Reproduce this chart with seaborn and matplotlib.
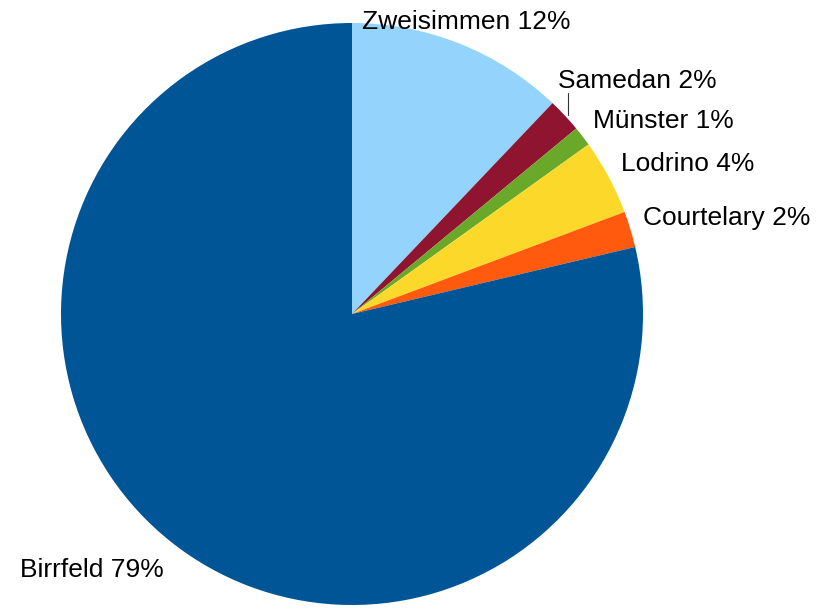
import numpy as np
import matplotlib
matplotlib.use("Agg")
import matplotlib.pyplot as plt
import seaborn as sns

# === Data ===
places = ["Zweisimmen", "Samedan", "Münster", "Lodrino", "Courtelary", "Birrfeld"]
shares = [12.1, 1.9, 1.1, 4.2, 2.0, 78.7]
shown_pct = ["12%", "2%", "1%", "4%", "2%", "79%"]
colors = ["#94d3fc", "#8e1430", "#6aa829", "#fcd82b", "#ff5a0e", "#005596"]

sns.set_theme(style="white")
plt.rcParams["font.family"] = ["Liberation Sans", "DejaVu Sans"]
plt.rcParams["text.color"] = "black"

fig = plt.figure(figsize=(8.27, 6.09), dpi=100)
ax = fig.add_axes([0, 0, 1, 1])

wedges, _ = ax.pie(shares, colors=sns.color_palette(colors), startangle=90,
                   counterclock=False, wedgeprops=dict(linewidth=0))

# === Labels placed outside, from each wedge's mid angle ===
for i, w in enumerate(wedges):
    mid = np.deg2rad((w.theta1 + w.theta2) / 2)
    text = f"{places[i]} {shown_pct[i]}"
    if places[i] == "Samedan":
        # short vertical leader line from the rim up to the label
        x0, y0 = np.cos(mid), np.sin(mid)
        ax.plot([x0 + 0.011, x0 + 0.011], [y0, y0 + 0.077], color="#333333", lw=0.8)
        ax.text(x0 - 0.023, y0 + 0.095, text, ha="left", va="baseline", fontsize=19)
        continue
    if places[i] == "Zweisimmen":
        r, ha = 1.056, "center"
    elif np.cos(mid) < 0:
        r, ha = 1.11, "right"
        mid += np.deg2rad(2.7)
    else:
        r, ha = 1.047, "left"
    ax.text(r * np.cos(mid), r * np.sin(mid), text, ha=ha, va="baseline", fontsize=19)

ax.set_aspect("auto")
ax.set_xlim(-352 / 291, (827 - 352) / 291)
ax.set_ylim(-(609 - 314) / 291, 314 / 291)
ax.axis("off")

fig.savefig("out.png", dpi=100, facecolor="white")
